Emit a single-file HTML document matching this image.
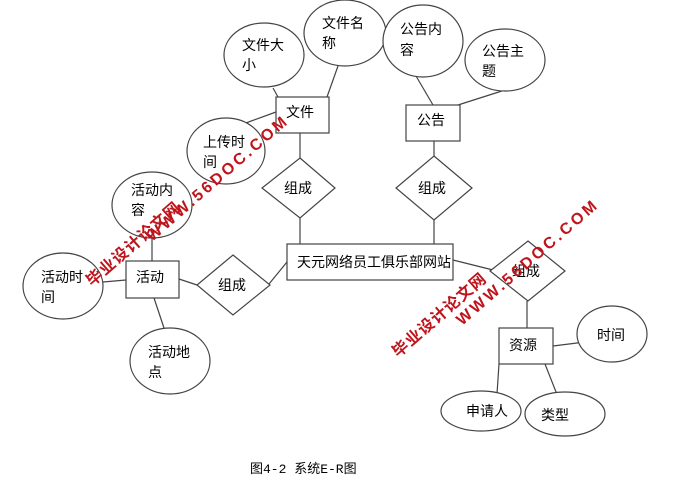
<!DOCTYPE html>
<html><head><meta charset="utf-8"><style>
body{margin:0;background:#fff}
svg text{font-family:"Liberation Sans","Noto Sans CJK SC",sans-serif;font-size:14px;fill:#000}
svg text.wm{fill:#c0141c;font-weight:bold;font-size:16px;letter-spacing:3px}
svg text.wc{fill:#c0141c;font-weight:bold;font-size:16px;letter-spacing:1px}
</style></head><body>
<svg width="679" height="488" viewBox="0 0 679 488" xmlns="http://www.w3.org/2000/svg">
<g stroke="#444" stroke-width="1.2" fill="none">
<line x1="273" y1="88" x2="278" y2="97"/>
<line x1="327" y1="97" x2="338" y2="66"/>
<line x1="243" y1="124" x2="276" y2="112"/>
<line x1="300" y1="133" x2="300" y2="158"/>
<line x1="300" y1="218" x2="300" y2="244"/>
<line x1="416" y1="76" x2="433" y2="105"/>
<line x1="458" y1="105" x2="505" y2="90"/>
<line x1="434" y1="141" x2="434" y2="156"/>
<line x1="434" y1="220" x2="434" y2="244"/>
<line x1="453" y1="260" x2="493" y2="270"/>
<line x1="527" y1="301" x2="527" y2="328"/>
<line x1="553" y1="346" x2="593" y2="341"/>
<line x1="499" y1="364" x2="497" y2="394"/>
<line x1="545" y1="364" x2="558" y2="397"/>
<line x1="152" y1="238" x2="152" y2="261"/>
<line x1="103" y1="282" x2="126" y2="280"/>
<line x1="154" y1="298" x2="164" y2="328"/>
<line x1="179" y1="279" x2="197" y2="285"/>
<line x1="269" y1="284" x2="287" y2="262"/>
<ellipse cx="264" cy="55" rx="40" ry="32" fill="#fff"/>
<ellipse cx="345" cy="33" rx="41" ry="33" fill="#fff"/>
<ellipse cx="226" cy="151" rx="39" ry="33" fill="#fff"/>
<ellipse cx="423" cy="41" rx="40" ry="36" fill="#fff"/>
<ellipse cx="505" cy="60" rx="40" ry="31" fill="#fff"/>
<ellipse cx="152" cy="205" rx="40" ry="33" fill="#fff"/>
<ellipse cx="63" cy="286" rx="40" ry="33" fill="#fff"/>
<ellipse cx="170" cy="361" rx="40" ry="33" fill="#fff"/>
<ellipse cx="612" cy="334" rx="35" ry="28" fill="#fff"/>
<ellipse cx="481" cy="411" rx="40" ry="20" fill="#fff"/>
<ellipse cx="565" cy="414" rx="40" ry="22" fill="#fff"/>
<rect x="276" y="97" width="53" height="36" fill="#fff"/>
<rect x="406" y="105" width="54" height="36" fill="#fff"/>
<rect x="287" y="244" width="166" height="36" fill="#fff"/>
<rect x="126" y="261" width="53" height="37" fill="#fff"/>
<rect x="499" y="328" width="54" height="36" fill="#fff"/>
<polygon points="300,158 335,188 300,218 262,188" fill="#fff"/>
<polygon points="434,156 472,188 434,220 396,188" fill="#fff"/>
<polygon points="233,255 270,285 233,315 197,285" fill="#fff"/>
<polygon points="528,241 565,271 528,301 490,271" fill="#fff"/>
</g>
<text x="242" y="50">文件大</text><text x="242" y="70">小</text>
<text x="322" y="28">文件名</text><text x="322" y="48">称</text>
<text x="286" y="117">文件</text>
<text x="203" y="147">上传时</text><text x="203" y="167">间</text>
<text x="284" y="193">组成</text>
<text x="400" y="34">公告内</text><text x="400" y="55">容</text>
<text x="482" y="56">公告主</text><text x="482" y="76">题</text>
<text x="417" y="125">公告</text>
<text x="418" y="193">组成</text>
<text x="297" y="267">天元网络员工俱乐部网站</text>
<text x="131" y="195">活动内</text><text x="131" y="215">容</text>
<text x="136" y="282">活动</text>
<text x="41" y="282">活动时</text><text x="41" y="302">间</text>
<text x="148" y="357">活动地</text><text x="148" y="377">点</text>
<text x="218" y="290">组成</text>
<text x="512" y="276">组成</text>
<text x="509" y="350">资源</text>
<text x="597" y="340">时间</text>
<text x="466" y="416">申请人</text>
<text x="541" y="420">类型</text>
<text x="250" y="473" style="font-size:13px;font-family:'Liberation Mono','Noto Sans CJK SC',monospace">图4-2  系统E-R图</text>
<text class="wm" transform="translate(152,242) rotate(-41)">WWW.56DOC.COM</text>
<text class="wc" transform="translate(92,287) rotate(-41)">毕业设计论文网</text>
<text class="wm" transform="translate(462,326) rotate(-41)">WWW.56DOC.COM</text>
<text class="wc" transform="translate(398,358) rotate(-41)">毕业设计论文网</text>
</svg>
</body></html>
